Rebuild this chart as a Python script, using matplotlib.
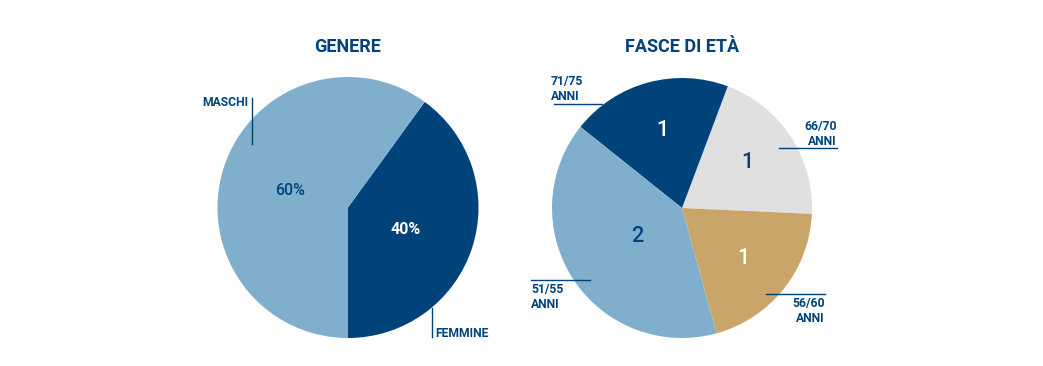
import matplotlib.pyplot as plt

DARK = '#00427a'
LIGHT = '#80aecd'
GREY = '#e0e0e0'
TAN = '#c9a56a'

# genere
genere_labels = ['FEMMINE', 'MASCHI']
genere_values = [40, 60]
genere_colors = [DARK, LIGHT]

# fasce di età (in ordine antiorario)
eta_labels = ['66/70\nANNI', '71/75\nANNI', '51/55\nANNI', '56/60\nANNI']
eta_values = [1, 1, 2, 1]
eta_colors = [GREY, DARK, LIGHT, TAN]

plt.rcParams['font.family'] = ['Roboto', 'DejaVu Sans']

W, H = 1043, 366
fig = plt.figure(figsize=(W / 100, H / 100), dpi=100)
ax = fig.add_axes([0, 0, 1, 1])


def y(p):
    return H - p


# torta genere
ax.pie(genere_values, colors=genere_colors, startangle=-90, counterclock=True,
       center=(348, y(207.5)), radius=130.5, wedgeprops=dict(linewidth=0))
ax.text(290, y(190.5), f'{genere_values[1]}%', color=DARK, fontsize=11.5,
        fontweight='medium', ha='center', va='center')
ax.text(405.5, y(230), f'{genere_values[0]}%', color='white', fontsize=11.5,
        fontweight='bold', ha='center', va='center')

# torta fasce di età
ax.pie(eta_values, colors=eta_colors, startangle=-2.6, counterclock=True,
       center=(682, y(208)), radius=130, wedgeprops=dict(linewidth=0))
num_pos = [(747, 162), (662.5, 131), (637, 237), (743, 259)]
num_col = [DARK, 'white', DARK, 'white']
for v, (px, py), c in zip(eta_values, num_pos, num_col):
    ax.text(px, y(py), str(v), color=c, fontsize=15.5, fontweight='medium',
            ha='center', va='center')

ax.set_xlim(0, W)
ax.set_ylim(0, H)
ax.set_aspect('equal')
ax.axis('off')

# titoli
title_kw = dict(color=DARK, fontsize=13, fontweight='bold', ha='center', va='center')
ax.text(348, y(47), 'GENERE', **title_kw)
ax.text(682, y(47), 'FASCE DI ETÀ', **title_kw)

# etichette con linee guida
lab_kw = dict(color=DARK, fontsize=8.7, fontweight='bold', linespacing=1.2)
ax.plot([252, 252], [y(98), y(144)], color=DARK, lw=1)
ax.text(248, y(102.5), genere_labels[1], ha='right', va='center', **lab_kw)
ax.plot([432, 432], [y(308), y(337)], color=DARK, lw=1)
ax.text(435, y(333.5), genere_labels[0], ha='left', va='center', **lab_kw)

ax.plot([554, 602], [y(104), y(104)], color=DARK, lw=1)
ax.text(551, y(89.5), eta_labels[1], ha='left', va='center', **lab_kw)
ax.plot([779, 837], [y(148), y(148)], color=DARK, lw=1)
ax.text(837, y(134), eta_labels[0], ha='right', va='center', multialignment='right', **lab_kw)
ax.plot([531, 590], [y(280), y(280)], color=DARK, lw=1)
ax.text(531, y(296.5), eta_labels[2], ha='left', va='center', **lab_kw)
ax.plot([766, 825], [y(294), y(294)], color=DARK, lw=1)
ax.text(825, y(311), eta_labels[3], ha='right', va='center', multialignment='right', **lab_kw)

fig.savefig('out.png', dpi=100)
